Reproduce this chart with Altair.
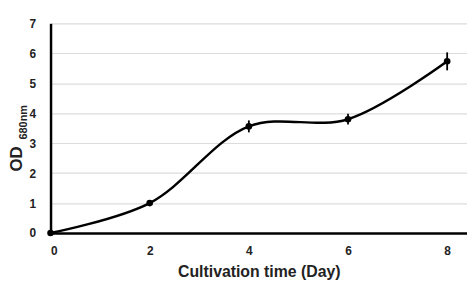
import altair as alt
import pandas as pd

days = [0, 2, 4, 6, 8]
od = [0.0, 1.0, 3.56, 3.80, 5.73]
err = [0.0, 0.05, 0.2, 0.18, 0.3]

df = pd.DataFrame({"day": days, "od": od, "err": err})
df["lo"] = df["od"] - df["err"]
df["hi"] = df["od"] + df["err"]

FONT = "Liberation Sans"

xscale = alt.Scale(domain=[0, 8.4], nice=False)
yscale = alt.Scale(domain=[0, 7], nice=False)

xaxis = alt.Axis(values=[0, 2, 4, 6, 8], title="Cultivation time (Day)",
                 grid=False, ticks=False, domainColor="black", domainWidth=2.5,
                 labelFont=FONT, labelFontWeight="bold", labelFontSize=12,
                 labelColor="#222", labelPadding=13, labelOverlap=False,
                 titleFont=FONT, titleFontWeight="bold", titleFontSize=16,
                 titleColor="#222", titlePadding=7)
yaxis = alt.Axis(values=[0, 1, 2, 3, 4, 5, 6, 7], title=None,
                 grid=True, gridColor="#dcdcdc", gridWidth=1.2,
                 ticks=False, domainColor="black", domainWidth=2.5,
                 labelFont=FONT, labelFontWeight="bold", labelFontSize=12,
                 labelColor="#222", labelPadding=15, labelOverlap=False)

x = alt.X("day:Q", scale=xscale, axis=xaxis)
y = alt.Y("od:Q", scale=yscale, axis=yaxis)

base = alt.Chart(df)
line = base.mark_line(interpolate="catmull-rom", color="black", strokeWidth=2.5).encode(x=x, y=y)
pts = base.mark_circle(color="black", size=45, opacity=1).encode(x=x, y=y)
bars = base.mark_rule(color="black", strokeWidth=1.8).encode(
    x=x, y=alt.Y("lo:Q", scale=yscale, axis=yaxis), y2="hi:Q")

lab = pd.DataFrame({"a": [0]})
t1 = alt.Chart(lab).mark_text(text="OD", angle=270, font=FONT, fontWeight="bold",
                              fontSize=17, color="#222", align="center", baseline="middle"
                              ).encode(x=alt.value(-34), y=alt.value(137))
t2 = alt.Chart(lab).mark_text(text="680nm", angle=270, font=FONT, fontWeight="bold",
                              fontSize=11, color="#222", align="center", baseline="middle"
                              ).encode(x=alt.value(-27), y=alt.value(100))

chart = alt.layer(line, bars, pts, t1, t2).properties(
    width=421, height=212,
    autosize=alt.AutoSizeParams(type="none"),
    padding={"left": 43, "top": 14, "right": 0, "bottom": 48},
).configure_view(stroke=None)

chart.save("out.html", embed_options={"renderer": "svg", "actions": False})
